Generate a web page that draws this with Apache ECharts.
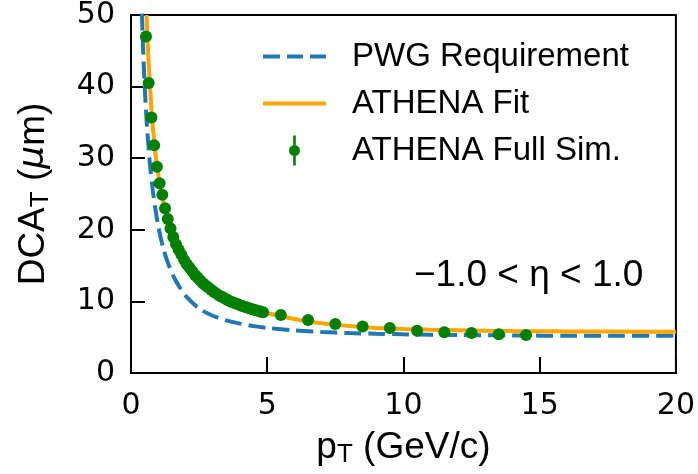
<!DOCTYPE html>
<html>
<head>
<meta charset="utf-8">
<script src="https://cdn.jsdelivr.net/npm/echarts@6/dist/echarts.min.js"></script>
<style>
  html, body { margin: 0; padding: 0; background: #fff; }
  #chart { width: 698px; height: 474px; }
</style>
</head>
<body>
<div id="chart"></div>
<script>
// PWG requirement curve (DCA_T in µm vs pT in GeV/c)
const pwgPt  = [0.4, 0.45, 0.5, 0.55, 0.6, 0.7, 0.8, 0.9, 1.0, 1.2, 1.4, 1.6, 1.8, 2.0, 2.5, 3.0, 3.5, 4.0, 4.5, 5.0, 6.0, 7.0, 8.0, 9.0, 10, 12, 14, 16, 18, 20];
const pwgDca = [50.2, 44.7, 40.3, 36.7, 33.7, 29.0, 25.5, 22.8, 20.5, 17.2, 14.9, 13.2, 11.9, 10.8, 9.0, 8.0, 7.35, 6.9, 6.55, 6.3, 5.95, 5.72, 5.58, 5.48, 5.4, 5.3, 5.25, 5.2, 5.2, 5.2];

// ATHENA fit curve
const fitPt  = [0.57, 0.6, 0.65, 0.7, 0.75, 0.8, 0.9, 1.0, 1.1, 1.2, 1.4, 1.6, 1.8, 2.0, 2.5, 3.0, 3.5, 4.0, 4.5, 5.0, 5.5, 6.0, 6.5, 7.0, 7.5, 8.0, 8.5, 9.0, 10, 11, 12, 13, 14, 15, 16, 17, 18, 19, 20];
const fitDca = [50.0, 47.2, 43.2, 40.0, 37.0, 34.5, 30.6, 27.8, 25.6, 23.7, 20.8, 18.6, 16.9, 15.5, 12.9, 11.4, 10.3, 9.5, 8.85, 8.35, 7.95, 7.55, 7.2, 6.95, 6.75, 6.55, 6.4, 6.3, 6.15, 6.05, 5.97, 5.9, 5.86, 5.83, 5.81, 5.79, 5.78, 5.77, 5.76];

// ATHENA full simulation points
const simPt  = [0.55, 0.65, 0.75, 0.85, 0.95, 1.05, 1.15, 1.25, 1.35, 1.45, 1.55, 1.65, 1.75, 1.85, 1.95, 2.05, 2.15, 2.25, 2.35, 2.45, 2.55, 2.65, 2.75, 2.85, 2.95, 3.05, 3.15, 3.25, 3.35, 3.45, 3.55, 3.65, 3.75, 3.85, 3.95, 4.05, 4.15, 4.25, 4.35, 4.45, 4.55, 4.65, 4.75, 4.85, 5.5, 6.5, 7.5, 8.5, 9.5, 10.5, 11.5, 12.5, 13.5, 14.5];
const simDca = [47.0, 40.5, 35.7, 31.8, 28.8, 26.5, 24.9, 23.0, 21.5, 20.2, 19.0, 18.0, 17.2, 16.5, 15.8, 15.2, 14.7, 14.2, 13.7, 13.3, 12.9, 12.5, 12.2, 11.9, 11.6, 11.3, 11.05, 10.8, 10.6, 10.4, 10.2, 10.0, 9.85, 9.7, 9.55, 9.4, 9.3, 9.15, 9.05, 8.9, 8.8, 8.7, 8.6, 8.5, 8.1, 7.4, 6.85, 6.5, 6.3, 5.9, 5.7, 5.6, 5.4, 5.3];

const seriesNames = ['PWG Requirement', 'ATHENA Fit', 'ATHENA Full Sim.'];
const etaLabel = '\u22121.0 < \u03b7 < 1.0';

const zip = (xs, ys) => xs.map((x, i) => [x, ys[i]]);

const sans = '"Liberation Sans", Arial, sans-serif';
const tickFont = '"DejaVu Sans", sans-serif';

// legend icons, drawn in a 63x32 box (corner specks fix the box size)
const box = 'M0,0h0.01v0.01h-0.01z M63,32h0.01v0.01h-0.01z ';
const dashIcon = 'path://' + box + 'M0,14h17v4h-17z M24,14h16v4h-16z M47,14h16v4h-16z';
const lineIcon = 'path://' + box + 'M0,14h63v4h-63z';
const errIcon  = 'path://' + box + 'M30.2,1h2.6v30h-2.6z M26,16a5.5,5.5 0 1,1 11,0a5.5,5.5 0 1,1 -11,0z';

const chart = echarts.init(document.getElementById('chart'), null, { renderer: 'canvas' });

chart.setOption({
  animation: false,
  backgroundColor: '#fff',
  grid: {
    left: 131, right: 21, top: 15, bottom: 101,
    show: true, borderColor: '#000', borderWidth: 2, backgroundColor: 'transparent'
  },
  xAxis: {
    type: 'value', min: 0, max: 20, interval: 5,
    name: '{m|p}{s|T}{m| (GeV/c)}',
    nameLocation: 'middle', nameGap: 55,
    nameTextStyle: {
      rich: {
        m: { fontFamily: sans, fontSize: 37, color: '#000', lineHeight: 40 },
        s: { fontFamily: sans, fontSize: 26, color: '#000', lineHeight: 40, verticalAlign: 'bottom', padding: [14, 0, 0, 0] }
      }
    },
    axisLine: { show: true, lineStyle: { color: '#000', width: 2 } },
    axisTick: { show: true, inside: true, length: 16, lineStyle: { color: '#000', width: 2 } },
    axisLabel: { fontFamily: tickFont, fontSize: 30, color: '#000', margin: 18 },
    splitLine: { show: false }
  },
  yAxis: {
    type: 'value', min: 0, max: 50, interval: 10,
    name: '{m|DCA}{s|T}{m| (}{i|\u03bc}{m|m)}',
    nameLocation: 'middle', nameGap: 77, nameRotate: 90,
    nameTextStyle: {
      rich: {
        m: { fontFamily: sans, fontSize: 37, color: '#000', lineHeight: 40 },
        s: { fontFamily: sans, fontSize: 26, color: '#000', lineHeight: 40, verticalAlign: 'bottom', padding: [14, 0, 0, 0] },
        i: { fontFamily: tickFont, fontStyle: 'italic', fontSize: 36, color: '#000', lineHeight: 40 }
      }
    },
    axisLine: { show: true, lineStyle: { color: '#000', width: 2 } },
    axisTick: { show: true, inside: true, length: 14, lineStyle: { color: '#000', width: 2 } },
    axisLabel: { fontFamily: tickFont, fontSize: 30, color: '#000', margin: 16 },
    splitLine: { show: false }
  },
  legend: {
    orient: 'vertical',
    left: 258, top: 35,
    itemWidth: 63, itemHeight: 32, itemGap: 14,
    textStyle: { fontFamily: sans, fontSize: 33, color: '#000', padding: [0, 0, 0, 21] },
    data: [
      { name: seriesNames[0], icon: dashIcon, itemStyle: { color: '#1f77b4' } },
      { name: seriesNames[1], icon: lineIcon, itemStyle: { color: '#ffa500' } },
      { name: seriesNames[2], icon: errIcon, itemStyle: { color: '#008000' } }
    ]
  },
  graphic: [{
    type: 'text',
    left: 414, top: 257,
    style: { text: etaLabel, font: '37px ' + sans, fill: '#000' }
  }],
  series: [
    {
      name: seriesNames[0], type: 'line', data: zip(pwgPt, pwgDca),
      smooth: 0.3, symbol: 'none', clip: true, z: 2,
      lineStyle: { color: '#1f77b4', width: 4, type: [17, 7] },
      itemStyle: { color: '#1f77b4' }
    },
    {
      name: seriesNames[1], type: 'line', data: zip(fitPt, fitDca),
      smooth: 0.3, symbol: 'none', clip: true, z: 3,
      lineStyle: { color: '#ffa500', width: 4 },
      itemStyle: { color: '#ffa500' }
    },
    {
      name: seriesNames[2], type: 'scatter', data: zip(simPt, simDca),
      symbol: 'circle', symbolSize: 12, clip: true, z: 4,
      itemStyle: { color: '#008000', opacity: 1 }
    }
  ]
});
</script>
</body>
</html>
